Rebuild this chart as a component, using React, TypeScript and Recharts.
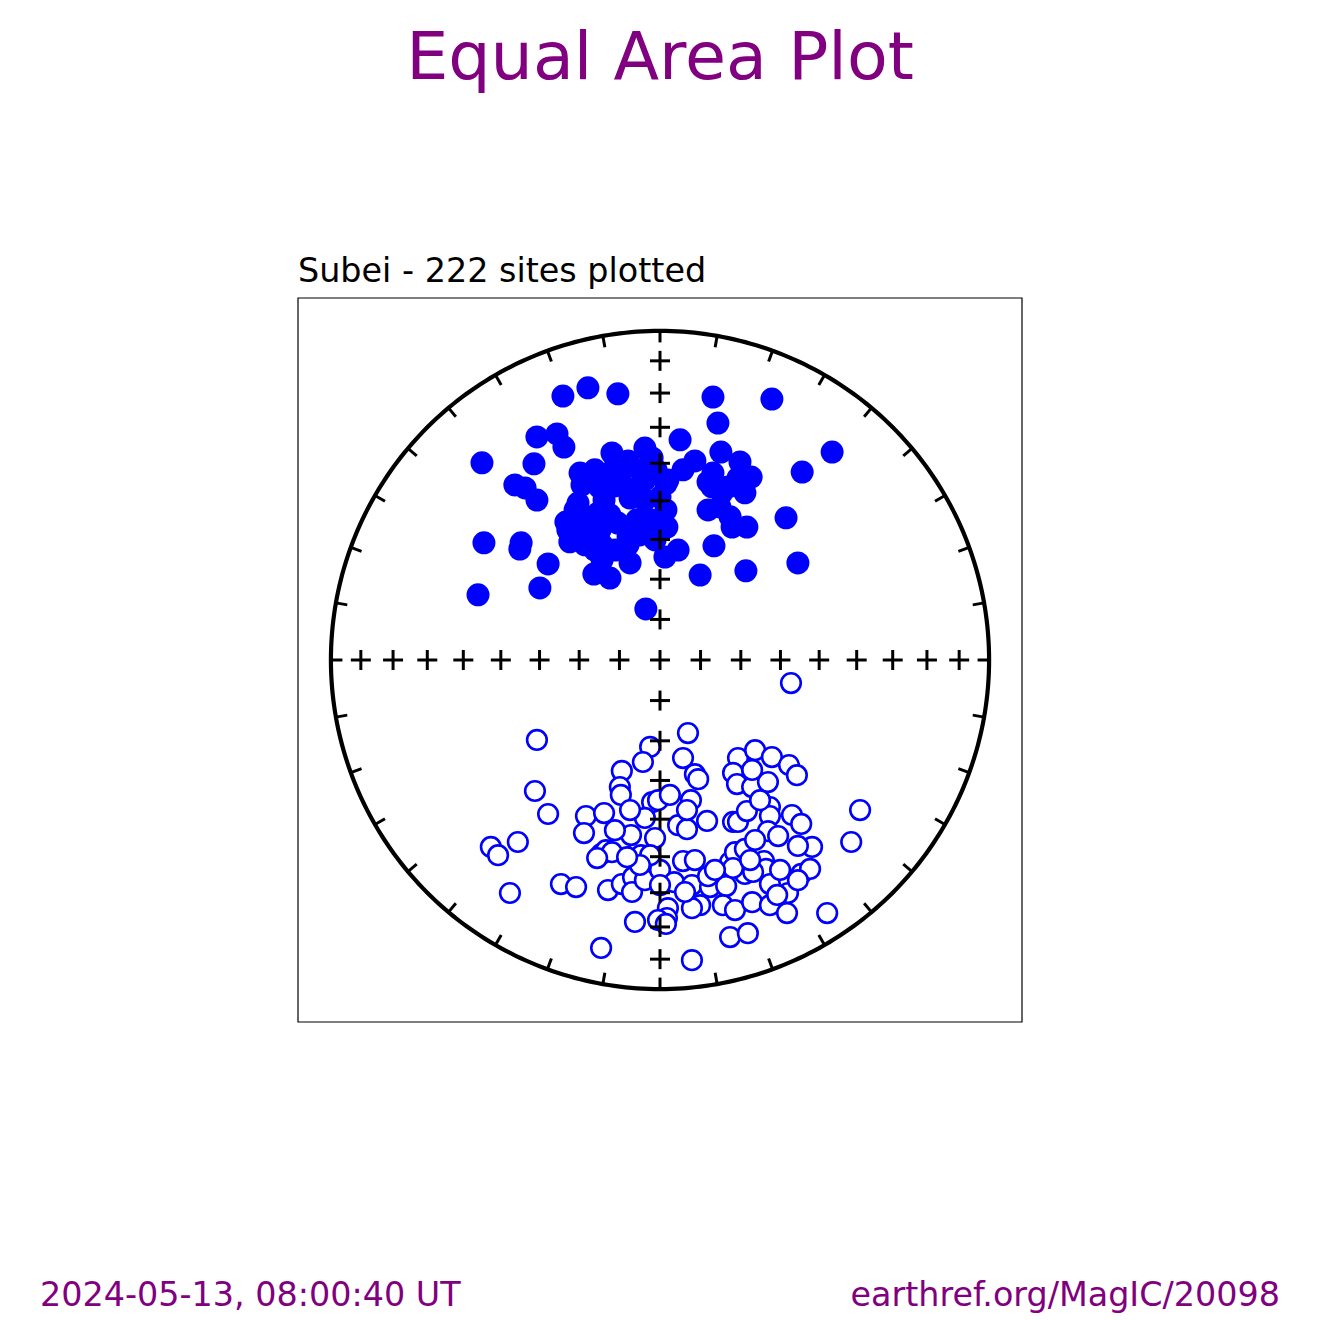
import React from "react"
import {
  ReferenceArea,
  ReferenceLine,
  Scatter,
  ScatterChart,
  XAxis,
  YAxis,
} from "recharts"

// Equal-area projection coords (unit circle = horizontal plane).
// Upper hemisphere (negative inclination) -> filled markers.
const upperX = [
  -0.295, -0.219, -0.128, 0.161, 0.34, 0.176, -0.374, -0.313, -0.292, 0.061,
  -0.046, -0.146, 0.185, 0.523, -0.541, -0.383, -0.097, -0.024, 0.106, 0.243,
  0.432, -0.243, -0.198, -0.146, -0.012, 0.024, 0.07, 0.161, 0.277, -0.441,
  -0.41, -0.374, -0.237, -0.182, -0.137, -0.079, 0.018, 0.158, 0.207, 0.258,
  -0.249, -0.17, -0.091, 0.188, 0.018, 0.146, 0.182, 0.213, 0.383, -0.188,
  -0.237, -0.128, -0.07, 0.219, 0.264, -0.28, -0.286, -0.219, -0.097, -0.012,
  0.021, -0.535, -0.422, -0.426, -0.274, -0.198, -0.176, -0.097, -0.015, 0.055,
  0.164, -0.34, -0.176, -0.091, 0.015, 0.419, -0.201, -0.152, 0.122, 0.261,
  -0.553, -0.365, -0.043, -0.213, -0.167, -0.122, -0.061, -0.046, 0.0, -0.03,
  -0.152, -0.213, -0.061, -0.137, -0.228, -0.258, -0.182, -0.046, 0.146, 0.237,
]
const upperY = [
  0.802, 0.827, 0.809, 0.799, 0.793, 0.72, 0.678, 0.687, 0.647, 0.669,
  0.644, 0.629, 0.632, 0.632, 0.599, 0.596, 0.605, 0.614, 0.605, 0.602,
  0.571, 0.568, 0.578, 0.574, 0.578, 0.547, 0.578, 0.568, 0.556, 0.532,
  0.523, 0.486, 0.532, 0.523, 0.529, 0.52, 0.535, 0.526, 0.526, 0.508,
  0.477, 0.486, 0.492, 0.508, 0.456, 0.456, 0.465, 0.435, 0.432, 0.447,
  0.438, 0.416, 0.426, 0.404, 0.404, 0.395, 0.419, 0.386, 0.374, 0.404,
  0.404, 0.356, 0.356, 0.337, 0.359, 0.334, 0.35, 0.35, 0.365, 0.334,
  0.347, 0.292, 0.304, 0.295, 0.313, 0.295, 0.261, 0.249, 0.258, 0.271,
  0.198, 0.219, 0.155, 0.553, 0.547, 0.562, 0.578, 0.486, 0.495, 0.426,
  0.441, 0.41, 0.38, 0.334, 0.35, 0.456, 0.395, 0.547, 0.541, 0.553,
]

// Lower hemisphere (positive inclination) -> open markers.
const lowerX = [
  0.398, 0.085, -0.374, -0.03, 0.07, 0.237, 0.289, 0.34, 0.392, 0.416,
  -0.052, -0.116, 0.106, 0.116, 0.222, 0.234, 0.28, 0.328, 0.28, -0.38,
  -0.122, -0.119, -0.024, -0.006, 0.094, -0.34, -0.225, -0.17, -0.046, 0.055,
  0.082, 0.082, 0.143, 0.222, 0.237, 0.264, 0.334, 0.334, 0.401, 0.429,
  0.608, -0.231, -0.116, -0.088, -0.015, 0.328, 0.359, 0.462, 0.419, 0.581,
  -0.514, -0.492, -0.432, -0.179, -0.164, -0.146, -0.058, 0.07, 0.106, 0.213,
  0.228, 0.258, 0.316, 0.322, 0.429, 0.456, -0.301, -0.255, -0.456, -0.158,
  -0.116, -0.082, -0.085, -0.046, 0.0, 0.043, 0.097, 0.152, 0.201, 0.258,
  0.283, 0.334, 0.389, 0.419, 0.024, 0.021, -0.006, 0.018, 0.122, 0.097,
  0.191, 0.228, 0.28, 0.334, 0.386, 0.508, -0.076, -0.179, 0.097, 0.213,
  0.267, 0.146, 0.222, -0.03, -0.061, 0.289, 0.304, -0.091, -0.137, 0.076,
  0.167, 0.365, 0.0, 0.274, 0.03, -0.191, -0.1, 0.356,
]
const lowerY = [
  -0.07, -0.222, -0.243, -0.264, -0.298, -0.298, -0.274, -0.295, -0.319, -0.35,
  -0.31, -0.337, -0.347, -0.362, -0.343, -0.377, -0.386, -0.371, -0.334, -0.398,
  -0.386, -0.41, -0.432, -0.426, -0.426, -0.468, -0.474, -0.465, -0.48, -0.502,
  -0.514, -0.456, -0.489, -0.492, -0.492, -0.459, -0.447, -0.474, -0.471, -0.498,
  -0.456, -0.526, -0.547, -0.532, -0.541, -0.52, -0.535, -0.568, -0.565, -0.553,
  -0.568, -0.593, -0.553, -0.59, -0.578, -0.584, -0.593, -0.611, -0.608, -0.614,
  -0.584, -0.574, -0.611, -0.635, -0.65, -0.635, -0.681, -0.69, -0.708, -0.699,
  -0.681, -0.66, -0.705, -0.669, -0.638, -0.675, -0.684, -0.69, -0.687, -0.65,
  -0.644, -0.681, -0.708, -0.669, -0.754, -0.784, -0.79, -0.802, -0.745, -0.754,
  -0.745, -0.76, -0.736, -0.745, -0.769, -0.769, -0.796, -0.875, -0.912, -0.842,
  -0.83, -0.657, -0.632, -0.593, -0.623, -0.547, -0.426, -0.456, -0.517, -0.705,
  -0.638, -0.638, -0.684, -0.608, -0.41, -0.602, -0.599, -0.714,
]

// Declination ticks around the primitive and inclination crosses on the axes.
const declinationTicks = [
  0, 10, 20, 30, 40, 50, 60, 70, 80, 90, 100, 110, 120, 130, 140, 150, 160, 170,
  180, 190, 200, 210, 220, 230, 240, 250, 260, 270, 280, 290, 300, 310, 320, 330,
  340, 350,
]
const inclinationTicks = [10, 20, 30, 40, 50, 60, 70, 80]

const DOMAIN: [number, number] = [-1.1, 1.1]
const BLUE = "#0000ff"
const PURPLE = "#800080"
const rad = (d: number) => (d * Math.PI) / 180

const upperData = upperX.map((x, i) => ({ x, y: upperY[i] }))
const lowerData = lowerX.map((x, i) => ({ x, y: lowerY[i] }))

const primitive = Array.from({ length: 361 }, (_, d) => ({
  x: Math.sin(rad(d)),
  y: Math.cos(rad(d)),
}))

const crossData = [{ x: 0, y: 0 }]
inclinationTicks.forEach((inc) => {
  const r = Math.sqrt(1 - Math.sin(rad(inc)))
  crossData.push({ x: r, y: 0 }, { x: -r, y: 0 }, { x: 0, y: r }, { x: 0, y: -r })
})

const FilledDot = (p: any) => <circle cx={p.cx} cy={p.cy} r={11.5} fill={BLUE} />
const OpenDot = (p: any) => (
  <circle cx={p.cx} cy={p.cy} r={9.8} fill="#fff" stroke={BLUE} strokeWidth={2.6} />
)
const Cross = (p: any) => (
  <g stroke="#000" strokeWidth={3}>
    <line x1={p.cx - 10} y1={p.cy} x2={p.cx + 10} y2={p.cy} />
    <line x1={p.cx} y1={p.cy - 10} x2={p.cx} y2={p.cy + 10} />
  </g>
)

export default function App() {
  return (
    <div
      style={{
        position: "absolute",
        left: 0,
        top: 0,
        width: 1320,
        height: 1320,
        background: "#fff",
        fontFamily: "'DejaVu Sans', sans-serif",
      }}
    >
      <ScatterChart
        width={1320}
        height={1320}
        margin={{ top: 298, right: 298, bottom: 298, left: 298 }}
      >
        <XAxis type="number" dataKey="x" domain={DOMAIN} hide />
        <YAxis type="number" dataKey="y" domain={DOMAIN} hide />
        <ReferenceArea
          x1={DOMAIN[0]}
          x2={DOMAIN[1]}
          y1={DOMAIN[0]}
          y2={DOMAIN[1]}
          fill="none"
          stroke="#000"
          strokeWidth={1.2}
          ifOverflow="visible"
        />
        <Scatter
          data={primitive}
          line={{ stroke: "#000", strokeWidth: 4.2 }}
          shape={() => <g />}
          isAnimationActive={false}
        />
        {declinationTicks.map((d) => (
          <ReferenceLine
            key={d}
            segment={[
              { x: Math.sin(rad(d)), y: Math.cos(rad(d)) },
              { x: 0.965 * Math.sin(rad(d)), y: 0.965 * Math.cos(rad(d)) },
            ]}
            stroke="#000"
            strokeWidth={3}
            ifOverflow="visible"
          />
        ))}
        <Scatter data={lowerData} shape={OpenDot} isAnimationActive={false} />
        <Scatter data={upperData} shape={FilledDot} isAnimationActive={false} />
        <Scatter data={crossData} shape={Cross} isAnimationActive={false} />
      </ScatterChart>
      <svg
        width={1320}
        height={1320}
        style={{ position: "absolute", left: 0, top: 0, pointerEvents: "none" }}
        fontFamily="'DejaVu Sans', sans-serif"
      >
        <text x={660} y={79} textAnchor="middle" fontSize={66.7} fill={PURPLE}>
          Equal Area Plot
        </text>
        <text x={298} y={282} fontSize={33.4} fill="#000">
          Subei - 222 sites plotted
        </text>
        <text x={40} y={1306} fontSize={33.4} fill={PURPLE}>
          2024-05-13, 08:00:40 UT
        </text>
        <text x={1280} y={1306} textAnchor="end" fontSize={33.4} fill={PURPLE}>
          earthref.org/MagIC/20098
        </text>
      </svg>
    </div>
  )
}
